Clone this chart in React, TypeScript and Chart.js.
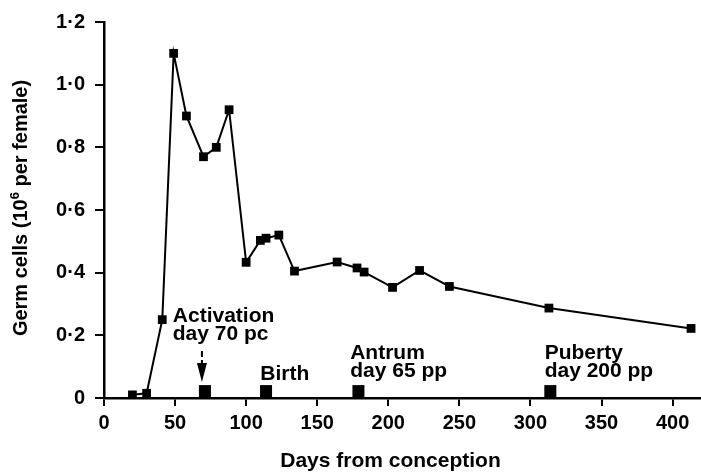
import React, { useEffect, useRef } from "react";
import { Chart, registerables } from "chart.js";

Chart.register(...registerables);

// Germ cell counts (10^6 per female) by days from conception
const days = [20, 30, 41, 49, 58, 70, 79, 88, 100, 110, 114, 123, 134, 164, 178, 183, 203, 222, 243, 313, 413];
const cells = [0.01, 0.015, 0.25, 1.1, 0.9, 0.77, 0.8, 0.92, 0.433, 0.503, 0.51, 0.52, 0.405, 0.434, 0.415, 0.402, 0.353, 0.407, 0.356, 0.287, 0.222];

// Developmental events marked along the baseline
const eventDays = [71, 114, 179, 314];
const eventLevel = [0.022, 0.022, 0.022, 0.022];
const eventLabels = [["Activation", "day 70 pc"], ["Birth"], ["Antrum", "day 65 pp"], ["Puberty", "day 200 pp"]];
const eventLabelDay = [48.4, 110, 173.2, 310];
const eventLabelBaseline = [0.244, 0.056, 0.124, 0.124];

const yTicks = [0, 0.2, 0.4, 0.6, 0.8, 1.0, 1.2];
const xTicks = [0, 50, 100, 150, 200, 250, 300, 350, 400];

const xTitle = "Days from conception";
const yTitleParts = ["Germ cells (10", "6", " per female)"];

const FONT = "'Liberation Sans', Arial, Helvetica, sans-serif";

const fmtY = (v: number) => (v === 0 ? "0" : v.toFixed(1).replace(".", "\u00B7"));

const annotationPlugin = {
  id: "eventAnnotations",
  afterDatasetsDraw(chart: any) {
    const { ctx, scales } = chart;
    const xs = scales.x;
    const ys = scales.y;
    ctx.save();
    ctx.fillStyle = "#000";
    ctx.font = `bold 21px ${FONT}`;
    ctx.textBaseline = "alphabetic";
    ctx.textAlign = "left";
    const lineGap = 0.0575;
    eventLabels.forEach((lines, i) => {
      lines.forEach((t, j) => {
        ctx.fillText(t, xs.getPixelForValue(eventLabelDay[i]), ys.getPixelForValue(eventLabelBaseline[i] - j * lineGap));
      });
    });
    // dashed arrow for activation
    const ax = xs.getPixelForValue(eventDays[0]) - 3;
    const yTop = ys.getPixelForValue(0.15);
    const yTip = ys.getPixelForValue(0.051);
    ctx.strokeStyle = "#000";
    ctx.lineWidth = 2;
    ctx.setLineDash([6, 3]);
    ctx.beginPath();
    ctx.moveTo(ax, yTop);
    ctx.lineTo(ax, yTip - 18);
    ctx.stroke();
    ctx.setLineDash([]);
    ctx.beginPath();
    ctx.moveTo(ax - 5, yTip - 19);
    ctx.lineTo(ax + 5, yTip - 19);
    ctx.lineTo(ax, yTip);
    ctx.closePath();
    ctx.fill();

    // axis titles
    const ca = chart.chartArea;
    ctx.font = `bold 21px ${FONT}`;
    ctx.textAlign = "center";
    ctx.fillText(xTitle, (ca.left + ca.right) / 2 - 12, 467);

    ctx.translate(27, 208);
    ctx.rotate(-Math.PI / 2);
    ctx.textAlign = "left";
    const big = `bold 20px ${FONT}`;
    const small = `bold 13px ${FONT}`;
    ctx.font = big;
    const w0 = ctx.measureText(yTitleParts[0]).width;
    const w2 = ctx.measureText(yTitleParts[2]).width;
    ctx.font = small;
    const w1 = ctx.measureText(yTitleParts[1]).width;
    let x = -(w0 + w1 + w2) / 2;
    ctx.font = big;
    ctx.fillText(yTitleParts[0], x, 0);
    x += w0;
    ctx.font = small;
    ctx.fillText(yTitleParts[1], x, -8);
    x += w1;
    ctx.font = big;
    ctx.fillText(yTitleParts[2], x, 0);
    ctx.restore();
  },
};

export default function App() {
  const ref = useRef<HTMLCanvasElement | null>(null);
  useEffect(() => {
    document.body.style.margin = "0";
    if (!ref.current) return;
    const chart = new Chart(ref.current, {
      type: "scatter",
      data: {
        datasets: [
          {
            data: days.map((d, i) => ({ x: d, y: cells[i] })),
            showLine: true,
            borderColor: "#000",
            backgroundColor: "#000",
            borderWidth: 2,
            pointStyle: "rect",
            pointRadius: 6.2,
            pointBorderWidth: 0,
            tension: 0,
          },
          {
            data: eventDays.map((d, i) => ({ x: d, y: eventLevel[i] })),
            showLine: false,
            borderColor: "#000",
            backgroundColor: "#000",
            pointStyle: "rect",
            pointRadius: 8.5,
            pointBorderWidth: 0,
          },
        ],
      },
      options: {
        animation: false,
        responsive: false,
        maintainAspectRatio: false,
        layout: { autoPadding: false, padding: { top: 14, right: 0, left: 0, bottom: 0 } },
        plugins: { legend: { display: false }, tooltip: { enabled: false } },
        scales: {
          x: {
            type: "linear",
            min: 0,
            max: 420,
            afterBuildTicks: (s: any) => {
              s.ticks = xTicks.map((v) => ({ value: v }));
            },
            afterFit: (s: any) => {
              s.height = 75;
            },
            ticks: {
              color: "#000",
              font: { family: FONT, size: 20, weight: "bold" },
              padding: 5,
              maxRotation: 0,
              autoSkip: false,
            },
            grid: { drawOnChartArea: false, drawTicks: true, tickLength: 8, color: "#000", lineWidth: 2 },
            border: { display: true, color: "#000", width: 2.5 },
            title: { display: false },
          },
          y: {
            type: "linear",
            min: 0,
            max: 1.2,
            afterBuildTicks: (s: any) => {
              s.ticks = yTicks.map((v) => ({ value: v }));
            },
            afterFit: (s: any) => {
              s.width = 104;
            },
            ticks: {
              color: "#000",
              font: { family: FONT, size: 20, weight: "bold" },
              padding: 10,
              callback: (v: any) => fmtY(Number(v)),
            },
            grid: { drawOnChartArea: false, drawTicks: true, tickLength: 9, color: "#000", lineWidth: 2 },
            border: { display: true, color: "#000", width: 2.5 },
            title: { display: false },
          },
        },
      },
      plugins: [annotationPlugin],
    } as any);
    return () => chart.destroy();
  }, []);
  return (
    <div style={{ width: 701, height: 473, background: "#fff" }}>
      <canvas ref={ref} width={701} height={473} style={{ display: "block" }} />
    </div>
  );
}
